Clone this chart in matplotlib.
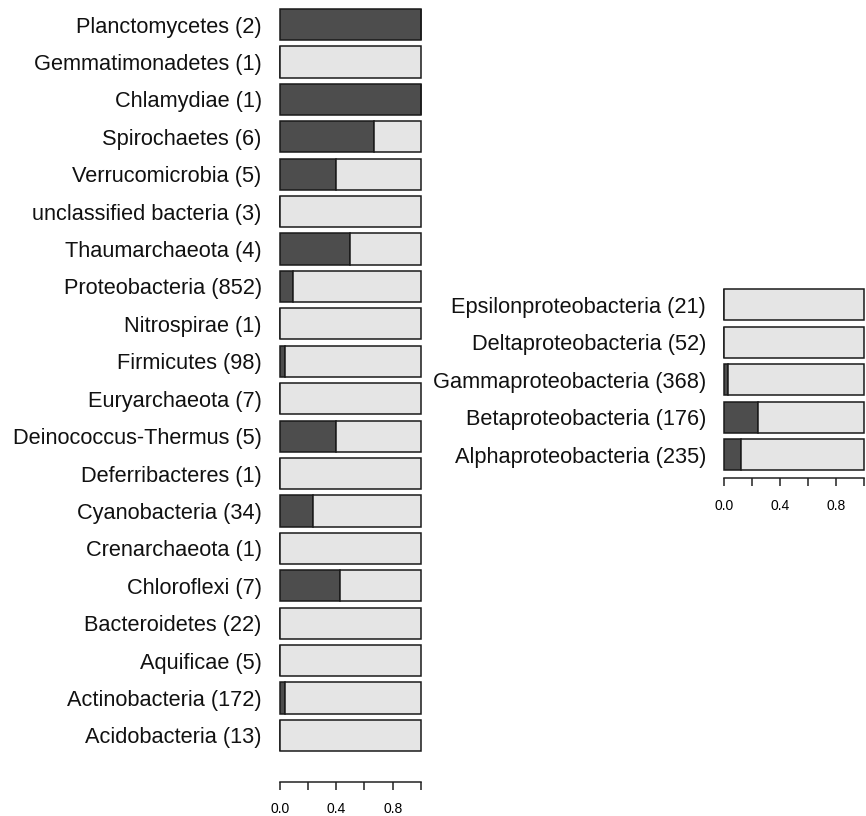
import matplotlib.pyplot as plt
import numpy as np

# phyla, listed bottom to top as drawn
phyla = ["Acidobacteria", "Actinobacteria", "Aquificae", "Bacteroidetes",
         "Chloroflexi", "Crenarchaeota", "Cyanobacteria", "Deferribacteres",
         "Deinococcus-Thermus", "Euryarchaeota", "Firmicutes", "Nitrospirae",
         "Proteobacteria", "Thaumarchaeota", "unclassified bacteria",
         "Verrucomicrobia", "Spirochaetes", "Chlamydiae", "Gemmatimonadetes",
         "Planctomycetes"]
phyla_total = [13, 172, 5, 22, 7, 1, 34, 1, 5, 7, 98, 1, 852, 4, 3, 5, 6, 1, 1, 2]
phyla_hits = [0, 6, 0, 0, 3, 0, 8, 0, 2, 0, 4, 0, 79, 2, 0, 2, 4, 1, 0, 2]

# proteobacteria classes, bottom to top
classes = ["Alphaproteobacteria", "Betaproteobacteria", "Gammaproteobacteria",
           "Deltaproteobacteria", "Epsilonproteobacteria"]
classes_total = [235, 176, 368, 52, 21]
classes_hits = [28, 42, 9, 0, 0]

DARK = "#4d4d4d"
LIGHT = "#e5e5e5"
FIG_W, FIG_H = 866, 816
SPACE = 0.2


def px_axes(fig, left, top, right, bottom):
    # axes box from pixel coordinates (origin top-left)
    return fig.add_axes([left / FIG_W, 1 - bottom / FIG_H,
                         (right - left) / FIG_W, (bottom - top) / FIG_H])


def draw_panel(ax, names, totals, hits, axis_gap):
    frac = np.array(hits) / np.array(totals)
    y = np.arange(len(names)) * (1 + SPACE)
    dark = ax.barh(y, frac, height=1, color=DARK, edgecolor="#1a1a1a",
                   linewidth=1.1)
    light = ax.barh(y, 1 - frac, left=frac, height=1, color=LIGHT,
                    edgecolor="#1a1a1a", linewidth=1.1)
    for p in list(dark) + list(light):
        p.set_clip_on(False)
    ax.set_xlim(0, 1)
    ax.set_ylim(y[0] - 0.5, y[-1] + 0.5)
    ax.set_yticks(y)
    ax.set_yticklabels([f"{n} ({t})" for n, t in zip(names, totals)],
                       fontsize=15.7, color="#111111")
    ax.tick_params(axis="y", length=0, pad=13)
    ax.set_xticks(np.linspace(0, 1, 6))
    ax.set_xticklabels(["0.0", "", "0.4", "", "0.8", ""], fontsize=11,
                       color="#222222")
    ax.tick_params(axis="x", length=6, width=1.1, pad=9, color="#222222")
    for s in ["top", "right", "left"]:
        ax.spines[s].set_visible(False)
    ax.spines["bottom"].set_position(("outward", axis_gap))
    ax.spines["bottom"].set_linewidth(1.1)
    ax.spines["bottom"].set_color("#222222")


plt.rcParams["font.family"] = ["Liberation Sans", "DejaVu Sans"]
fig = plt.figure(figsize=(FIG_W / 100, FIG_H / 100), dpi=100)

ax1 = px_axes(fig, 279.7, 9, 421, 751)
draw_panel(ax1, phyla, phyla_total, phyla_hits, 22)

ax2 = px_axes(fig, 724.3, 289, 864.5, 470.5)
draw_panel(ax2, classes, classes_total, classes_hits, 5.5)

fig.savefig("out.png", dpi=100)
